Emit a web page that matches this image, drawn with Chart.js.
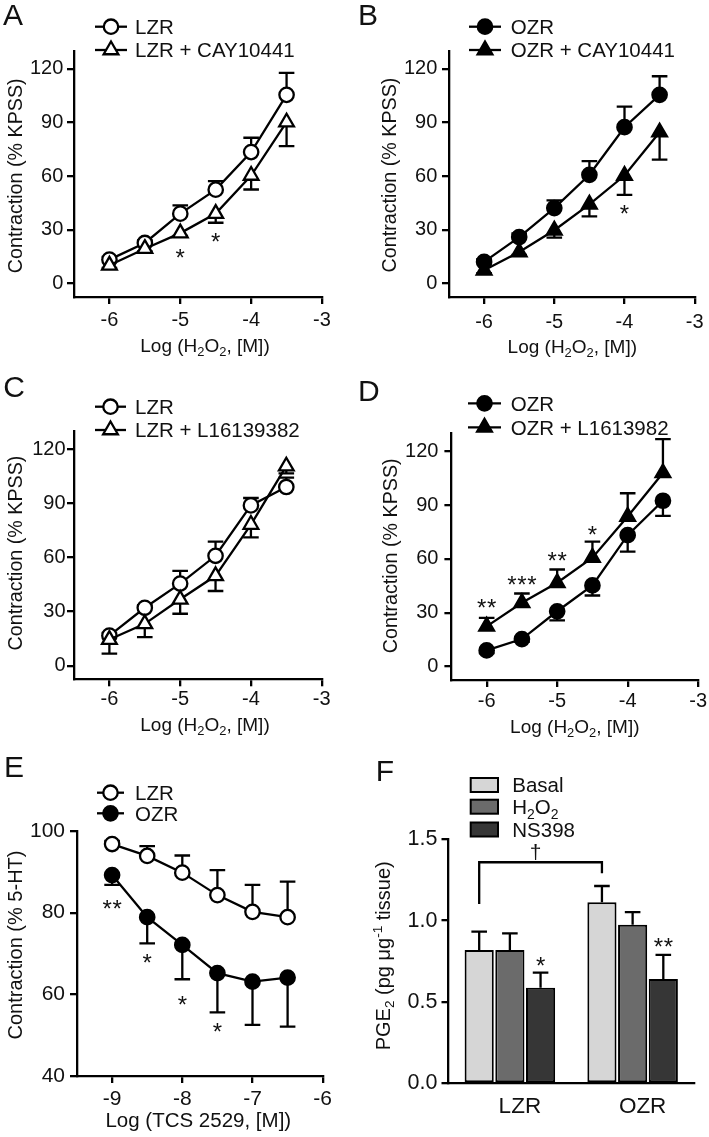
<!DOCTYPE html>
<html>
<head>
<meta charset="utf-8">
<script src="https://cdn.jsdelivr.net/npm/chart.js@4.4.1/dist/chart.umd.min.js"></script>
<style>
  html, body { margin: 0; padding: 0; background: #fff; }
  #fig { position: relative; width: 709px; height: 1137px; }
  #fig canvas { position: absolute; }
</style>
</head>
<body>
<div id="fig">
  <canvas id="pA" width="354" height="370" style="left:0;top:0"></canvas>
  <canvas id="pB" width="355" height="370" style="left:354px;top:0"></canvas>
  <canvas id="pC" width="354" height="380" style="left:0;top:370px"></canvas>
  <canvas id="pD" width="355" height="380" style="left:354px;top:370px"></canvas>
  <canvas id="pE" width="354" height="387" style="left:0;top:750px"></canvas>
  <canvas id="pF" width="355" height="387" style="left:354px;top:750px"></canvas>
</div>
<script>
/* ── data ── */
const H2O2_LOG = [-6, -5.5, -5, -4.5, -4, -3.5];
const TCS_LOG  = [-9, -8.5, -8, -7.5, -7, -6.5];
const KPSS_TICKS = [0, 30, 60, 90, 120];
const H2O2_TICKS = [-6, -5, -4, -3];
const HT_TICKS   = [40, 60, 80, 100];
const TCS_TICKS  = [-9, -8, -7, -6];
const PGE_TICKS  = [0, 0.5, 1.0, 1.5];

// A: LZR +/- CAY10441
const A_LABELS  = ['LZR', 'LZR + CAY10441'];
const A_LZR     = [13.4, 22.7, 39.1, 52.5, 73.5, 105.5];
const A_LZR_SEM = [1.5, 1.5, 4.6, 4.8, 8.0, 12.3];
const A_CAY     = [10.2, 19.5, 28.2, 39.1, 60.4, 90.2];
const A_CAY_SEM = [1.5, 1.5, 1.5, 5.1, 7.8, 13.4];
const A_STARS   = [[-5, 17.6, 1], [-4.5, 26.6, 1]];

// B: OZR +/- CAY10441
const B_LABELS  = ['OZR', 'OZR + CAY10441'];
const B_OZR     = [12.1, 26.0, 42.2, 60.8, 87.4, 105.5];
const B_OZR_SEM = [1.5, 2, 4.3, 7.6, 11.5, 10.4];
const B_CAY     = [7.4, 17.6, 29.8, 44.3, 60.4, 84.6];
const B_CAY_SEM = [1.5, 1.5, 4.1, 6.7, 10.8, 15.3];
const B_STARS   = [[-4, 41.9, 1]];

// C: LZR +/- L16139382
const C_LABELS  = ['LZR', 'LZR + L16139382'];
const C_LZR     = [16.7, 32.1, 45.5, 60.9, 88.8, 99.0];
const C_LZR_SEM = [1.5, 1.5, 7.0, 7.8, 4.1, 5.2];
const C_L16     = [14.5, 23.2, 36.8, 49.8, 78.2, 110.5];
const C_L16_SEM = [7.8, 7.3, 8.0, 8.4, 7.1, 4.0];
const C_STARS   = [];

// D: OZR +/- L1613982
const D_LABELS  = ['OZR', 'OZR + L1613982'];
const D_OZR     = [9.0, 15.3, 30.8, 45.2, 73.2, 92.4];
const D_OZR_SEM = [1.5, 1.5, 5.1, 5.6, 9.2, 8.4];
const D_L16     = [22.4, 35.5, 46.7, 60.7, 83.6, 107.9];
const D_L16_SEM = [4.7, 5.2, 7.4, 8.9, 13.0, 18.9];
const D_STARS   = [[-6, 35.8, 2], [-5.5, 48.9, 3], [-5, 61.9, 2], [-4.5, 76.5, 1]];

// E: TCS 2529
const E_LABELS  = ['LZR', 'OZR'];
const E_LZR     = [96.8, 93.9, 89.8, 84.3, 80.2, 78.9];
const E_LZR_SEM = [0.8, 2.4, 4.2, 6.1, 6.6, 8.7];
const E_OZR     = [89.2, 78.9, 72.1, 65.2, 63.1, 64.1];
const E_OZR_SEM = [2.4, 6.4, 8.4, 9.6, 10.6, 12.0];
const E_STARS   = [[-9, 82.3, 2], [-8.5, 69.2, 1], [-8, 58.9, 1], [-7.5, 52.3, 1]];

// F: PGE2
const F_GROUPS    = ['LZR', 'OZR'];
const F_LABELS    = ['Basal', 'H_{2}O_{2}', 'NS398'];
const F_BASAL     = [0.82, 1.113];
const F_BASAL_SEM = [0.112, 0.10];
const F_H2O2      = [0.82, 0.974];
const F_H2O2_SEM  = [0.102, 0.078];
const F_NS398     = [0.588, 0.641];
const F_NS398_SEM = [0.092, 0.148];
const F_STARS     = [[0, 2, 0.758, 1], [1, 2, 0.871, 2]];   // group, series, y, count
const F_BRACKET   = [1.102, 1.359, 1.291];                   // left foot, top, right foot
const F_DAGGER_Y  = 1.378;

/* ── shared drawing helpers ── */
const FONT = '"Liberation Sans", Arial, Helvetica, sans-serif';
const INK = '#111';
const AXIS_W = 2.3;
const LINE_W = 2.3;
const CAP = 7.8;
const STAR_SIZE = 24, STAR_GAP = 10;
const LEGEND_SIZE = 20.5;

function parseRich(s) {
  const segs = [], re = /([_^])\{([^}]*)\}/g;
  let last = 0, m;
  while ((m = re.exec(s))) {
    if (m.index > last) segs.push([s.slice(last, m.index), 0]);
    segs.push([m[2], m[1] === '_' ? 1 : 2]);
    last = re.lastIndex;
  }
  if (last < s.length) segs.push([s.slice(last), 0]);
  return segs;
}

function drawRich(ctx, s, x, y, size, align) {
  const segs = parseRich(s), small = size * 0.68;
  const fontOf = k => (k ? small : size) + 'px ' + FONT;
  let w = 0;
  segs.forEach(([t, k]) => { ctx.font = fontOf(k); w += ctx.measureText(t).width; });
  let cx = align === 'center' ? x - w / 2 : x;
  ctx.textAlign = 'left';
  ctx.textBaseline = 'alphabetic';
  segs.forEach(([t, k]) => {
    ctx.font = fontOf(k);
    const dy = k === 1 ? size * 0.22 : k === 2 ? -size * 0.4 : 0;
    ctx.fillText(t, cx, y + dy);
    cx += ctx.measureText(t).width;
  });
}

function drawMarker(ctx, style, filled, x, y) {
  ctx.beginPath();
  if (style === 'triangle') {
    const r = 8.5;
    ctx.moveTo(x, y - r);
    ctx.lineTo(x + r * Math.sin(2 * Math.PI / 3), y + r / 2);
    ctx.lineTo(x - r * Math.sin(2 * Math.PI / 3), y + r / 2);
    ctx.closePath();
  } else {
    ctx.arc(x, y, 7.2, 0, Math.PI * 2);
  }
  ctx.fillStyle = filled ? '#000' : '#fff';
  ctx.fill();
  ctx.lineWidth = LINE_W;
  ctx.strokeStyle = '#000';
  ctx.stroke();
}

function drawStars(ctx, cx, cy, n) {
  ctx.font = STAR_SIZE + 'px ' + FONT;
  ctx.textAlign = 'center';
  ctx.textBaseline = 'alphabetic';
  for (let k = 0; k < n; k++) {
    ctx.fillText('*', cx + (k - (n - 1) / 2) * STAR_GAP, cy + STAR_SIZE * 0.575);
  }
}

/* error bars go under the marks */
const errorBars = {
  id: 'errorBars',
  beforeDatasetsDraw(chart) {
    const ctx = chart.ctx, ys = chart.scales.y;
    ctx.save();
    ctx.strokeStyle = '#000';
    ctx.lineWidth = LINE_W;
    chart.data.datasets.forEach((ds, i) => {
      if (!ds.sem) return;
      chart.getDatasetMeta(i).data.forEach((el, j) => {
        const raw = ds.data[j];
        const v = typeof raw === 'object' ? raw.y : raw;
        const y0 = ys.getPixelForValue(v);
        const y1 = ys.getPixelForValue(v + ds.errDir * ds.sem[j]);
        ctx.beginPath();
        ctx.moveTo(el.x, y0); ctx.lineTo(el.x, y1);
        ctx.moveTo(el.x - CAP, y1); ctx.lineTo(el.x + CAP, y1);
        ctx.stroke();
      });
    });
    ctx.restore();
  }
};

/* letters, titles, legends, significance marks */
function decorate(p) {
  return {
    id: 'decorate',
    afterDraw(chart) {
      const ctx = chart.ctx, xs = chart.scales.x, ys = chart.scales.y;
      ctx.save();
      ctx.fillStyle = INK;

      ctx.font = '30px ' + FONT;
      ctx.textAlign = 'left';
      ctx.textBaseline = 'alphabetic';
      ctx.fillText(p.letter, p.letterXY[0], p.letterXY[1]);

      if (p.xTitle) drawRich(ctx, p.xTitle, p.xTitlePos[0], p.xTitlePos[1], p.xTitleSize || 19, 'center');
      ctx.save();
      ctx.translate(p.yTitlePos[0], p.yTitlePos[1]);
      ctx.rotate(-Math.PI / 2);
      drawRich(ctx, p.yTitle, 0, 0, p.yTitleSize || 19.7, 'center');
      ctx.restore();

      const lg = p.legend;
      if (p.series) {
        p.series.forEach((s, k) => {
          const y = lg.rows[k];
          ctx.strokeStyle = '#000';
          ctx.lineWidth = LINE_W;
          ctx.beginPath(); ctx.moveTo(lg.line[0], y); ctx.lineTo(lg.line[1], y); ctx.stroke();
          drawMarker(ctx, s.marker, s.filled, (lg.line[0] + lg.line[1]) / 2, y);
          ctx.fillStyle = INK;
          drawRich(ctx, s.label, lg.text, y + LEGEND_SIZE * 0.358, LEGEND_SIZE, 'left');
        });
        (p.stars || []).forEach(([x, y, n]) => {
          drawStars(ctx, xs.getPixelForValue(x), ys.getPixelForValue(y), n);
        });
      } else {
        // bar panel legend
        chart.data.datasets.forEach((ds, k) => {
          const y = lg.rows[k];
          ctx.fillStyle = ds.backgroundColor;
          ctx.fillRect(lg.box[0], y - 7, lg.box[1] - lg.box[0], 14);
          ctx.strokeStyle = '#000';
          ctx.lineWidth = 2;
          ctx.strokeRect(lg.box[0], y - 7, lg.box[1] - lg.box[0], 14);
          ctx.fillStyle = INK;
          drawRich(ctx, ds.label, lg.text, y + LEGEND_SIZE * 0.358, LEGEND_SIZE, 'left');
        });
        p.stars.forEach(([g, s, y, n]) => {
          const el = chart.getDatasetMeta(s).data[g];
          drawStars(ctx, el.x, ys.getPixelForValue(y), n);
        });
        const base = chart.getDatasetMeta(0).data;
        const xl = base[0].x, xr = base[1].x;
        const [yl, yt, yr] = p.bracket.map(v => ys.getPixelForValue(v));
        ctx.strokeStyle = '#000';
        ctx.lineWidth = LINE_W;
        ctx.beginPath();
        ctx.moveTo(xl, yl); ctx.lineTo(xl, yt); ctx.lineTo(xr, yt); ctx.lineTo(xr, yr);
        ctx.stroke();
        ctx.fillStyle = INK;
        ctx.font = '21px ' + FONT;
        ctx.textAlign = 'center';
        ctx.textBaseline = 'alphabetic';
        ctx.fillText('\u2020', (xl + xr) / 2 - 5, ys.getPixelForValue(p.daggerY));
      }
      ctx.restore();
    }
  };
}

function axisBase(p, W, H, horizontal, tickSize, pad) {
  const [l, t, r, b] = p.area;
  return {
    afterFit: sc => {
      if (horizontal) sc.height = H - b; else sc.width = l;
      sc.paddingLeft = 0; sc.paddingRight = 0; sc.paddingTop = 0; sc.paddingBottom = 0;
    },
    ticks: { color: INK, font: { family: FONT, size: tickSize }, padding: pad, autoSkip: false, maxRotation: 0 },
    grid: { drawOnChartArea: false, drawTicks: true, tickLength: 7, tickWidth: AXIS_W, tickColor: '#000', color: '#000', lineWidth: AXIS_W },
    border: { display: true, color: '#000', width: AXIS_W },
    title: { display: false }
  };
}

function buildCurvePanel(p) {
  const canvas = document.getElementById(p.id);
  const W = canvas.width, H = canvas.height;
  const [l, t, r, b] = p.area;
  const size = p.tickSize || 20;
  const xAxis = axisBase(p, W, H, true, size, p.xTickPad);
  const yAxis = axisBase(p, W, H, false, size, p.yTickPad);
  Object.assign(xAxis, {
    type: 'linear', min: p.xMin, max: p.xMax,
    afterBuildTicks: sc => { sc.ticks = p.xTicks.map(v => ({ value: v })); }
  });
  xAxis.ticks.callback = v => String(v);
  Object.assign(yAxis, {
    type: 'linear', min: p.yMin, max: p.yMax,
    afterBuildTicks: sc => { sc.ticks = p.yTicks.map(v => ({ value: v })); }
  });
  yAxis.ticks.callback = v => String(v);

  new Chart(canvas, {
    type: 'line',
    data: {
      datasets: p.series.map(s => ({
        label: s.label,
        data: p.xs.map((x, i) => ({ x, y: s.values[i] })),
        sem: s.sem, errDir: s.dir,
        borderColor: '#000', borderWidth: LINE_W, tension: 0, fill: false,
        pointStyle: s.marker, pointRadius: s.marker === 'triangle' ? 8.5 : 7.2,
        pointBorderWidth: LINE_W, pointBorderColor: '#000',
        pointBackgroundColor: s.filled ? '#000' : '#fff',
        order: s.order, clip: false
      }))
    },
    options: {
      responsive: false, animation: false, events: [],
      layout: { padding: { left: 0, top: t, right: W - r, bottom: 0 } },
      plugins: { legend: { display: false }, tooltip: { enabled: false } },
      scales: { x: xAxis, y: yAxis }
    },
    plugins: [errorBars, decorate(p)]
  });
}

function buildBarPanel(p) {
  const canvas = document.getElementById(p.id);
  const W = canvas.width, H = canvas.height;
  const [l, t, r, b] = p.area;
  const xAxis = axisBase(p, W, H, true, 22.5, 10);
  xAxis.type = 'category';
  xAxis.grid.drawTicks = false;
  xAxis.ticks.labelOffset = 10;
  const yAxis = axisBase(p, W, H, false, 21.5, p.yTickPad);
  Object.assign(yAxis, {
    type: 'linear', min: 0, max: 1.5,
    afterBuildTicks: sc => { sc.ticks = PGE_TICKS.map(v => ({ value: v })); }
  });
  yAxis.ticks.callback = v => v.toFixed(1);

  const fills = ['#d6d6d6', '#6b6b6b', '#363636'];
  const vals = [F_BASAL, F_H2O2, F_NS398];
  const sems = [F_BASAL_SEM, F_H2O2_SEM, F_NS398_SEM];
  new Chart(canvas, {
    type: 'bar',
    data: {
      labels: F_GROUPS,
      datasets: F_LABELS.map((lab, k) => ({
        label: lab, data: vals[k], sem: sems[k], errDir: 1,
        backgroundColor: fills[k], borderColor: '#000', borderWidth: 2, borderSkipped: false,
        categoryPercentage: 0.75, barPercentage: 0.95
      }))
    },
    options: {
      responsive: false, animation: false, events: [],
      layout: { padding: { left: 0, top: t, right: W - r, bottom: 0 } },
      plugins: { legend: { display: false }, tooltip: { enabled: false } },
      scales: { x: xAxis, y: yAxis }
    },
    plugins: [errorBars, decorate(p)]
  });
}

const KPSS_Y = { yMin: -7.5, yMax: 130, yTicks: KPSS_TICKS, xs: H2O2_LOG, xMin: -6.5, xMax: -3, xTicks: H2O2_TICKS,
                 xTitle: 'Log (H_{2}O_{2}, [M])', yTitle: 'Contraction (% KPSS)' };

buildCurvePanel(Object.assign({}, KPSS_Y, {
  id: 'pA', letter: 'A', letterXY: [3, 25], area: [74, 51, 322, 297],
  xTickPad: 4.8, yTickPad: 3.7, xTitlePos: [205, 352.3], yTitlePos: [21.5, 175.8],
  legend: { rows: [26.7, 50], line: [95, 127], text: 135 },
  series: [
    { label: A_LABELS[0], values: A_LZR, sem: A_LZR_SEM, dir: 1, marker: 'circle', filled: false, order: 1 },
    { label: A_LABELS[1], values: A_CAY, sem: A_CAY_SEM, dir: -1, marker: 'triangle', filled: false, order: 0 }
  ],
  stars: A_STARS
}));

buildCurvePanel(Object.assign({}, KPSS_Y, {
  id: 'pB', letter: 'B', letterXY: [4, 25], area: [95, 51, 340.7, 297],
  xTickPad: 6.2, yTickPad: 4.7, xTitlePos: [218.3, 352.7], yTitlePos: [41.5, 175],
  legend: { rows: [26.7, 50], line: [115, 147], text: 156.7 },
  series: [
    { label: B_LABELS[0], values: B_OZR, sem: B_OZR_SEM, dir: 1, marker: 'circle', filled: true, order: 1 },
    { label: B_LABELS[1], values: B_CAY, sem: B_CAY_SEM, dir: -1, marker: 'triangle', filled: true, order: 0 }
  ],
  stars: B_STARS
}));

buildCurvePanel(Object.assign({}, KPSS_Y, {
  id: 'pC', letter: 'C', letterXY: [3.3, 27.3], area: [74, 61, 321.7, 309.3],
  xTickPad: 0.8, yTickPad: 1.5, xTitlePos: [205, 361], yTitlePos: [21.5, 183],
  legend: { rows: [36.7, 60], line: [95, 126], text: 135 },
  series: [
    { label: C_LABELS[0], values: C_LZR, sem: C_LZR_SEM, dir: 1, marker: 'circle', filled: false, order: 1 },
    { label: C_LABELS[1], values: C_L16, sem: C_L16_SEM, dir: -1, marker: 'triangle', filled: false, order: 0 }
  ],
  stars: C_STARS
}));

buildCurvePanel(Object.assign({}, KPSS_Y, {
  id: 'pD', letter: 'D', letterXY: [4, 30.7], area: [97.4, 63.3, 344.3, 310],
  xTickPad: 2.9, yTickPad: 6, xTitlePos: [220.8, 362.7], yTitlePos: [43, 185.8],
  legend: { rows: [33.3, 57.3], line: [114, 147], text: 156.7 },
  series: [
    { label: D_LABELS[0], values: D_OZR, sem: D_OZR_SEM, dir: -1, marker: 'circle', filled: true, order: 1 },
    { label: D_LABELS[1], values: D_L16, sem: D_L16_SEM, dir: 1, marker: 'triangle', filled: true, order: 0 }
  ],
  stars: D_STARS
}));

buildCurvePanel({
  id: 'pE', letter: 'E', letterXY: [4, 26.7], area: [77, 81, 322.7, 326],
  xs: TCS_LOG, xMin: -9.5, xMax: -6, xTicks: TCS_TICKS, yMin: 40, yMax: 100, yTicks: HT_TICKS,
  tickSize: 21, xTickPad: 3.5, yTickPad: 5,
  xTitle: 'Log (TCS 2529, [M])', xTitleSize: 20.5, xTitlePos: [198.3, 376.7],
  yTitle: 'Contraction (% 5-HT)', yTitleSize: 20, yTitlePos: [21.5, 195],
  legend: { rows: [42.7, 63.3], line: [97, 124], text: 135 },
  series: [
    { label: E_LABELS[0], values: E_LZR, sem: E_LZR_SEM, dir: 1, marker: 'circle', filled: false, order: 0 },
    { label: E_LABELS[1], values: E_OZR, sem: E_OZR_SEM, dir: -1, marker: 'circle', filled: true, order: 1 }
  ],
  stars: E_STARS
});

buildBarPanel({
  id: 'pF', letter: 'F', letterXY: [21.7, 30.7], area: [94.5, 89.3, 340, 333.3],
  yTickPad: 4, yTitle: 'PGE_{2} (pg \u03bcg^{-1} tissue)', yTitlePos: [36, 205.8], yTitleSize: 20,
  legend: { rows: [35, 56.7, 79.5], box: [116.7, 144], text: 158.3 },
  stars: F_STARS, bracket: F_BRACKET, daggerY: F_DAGGER_Y
});
</script>
</body>
</html>
